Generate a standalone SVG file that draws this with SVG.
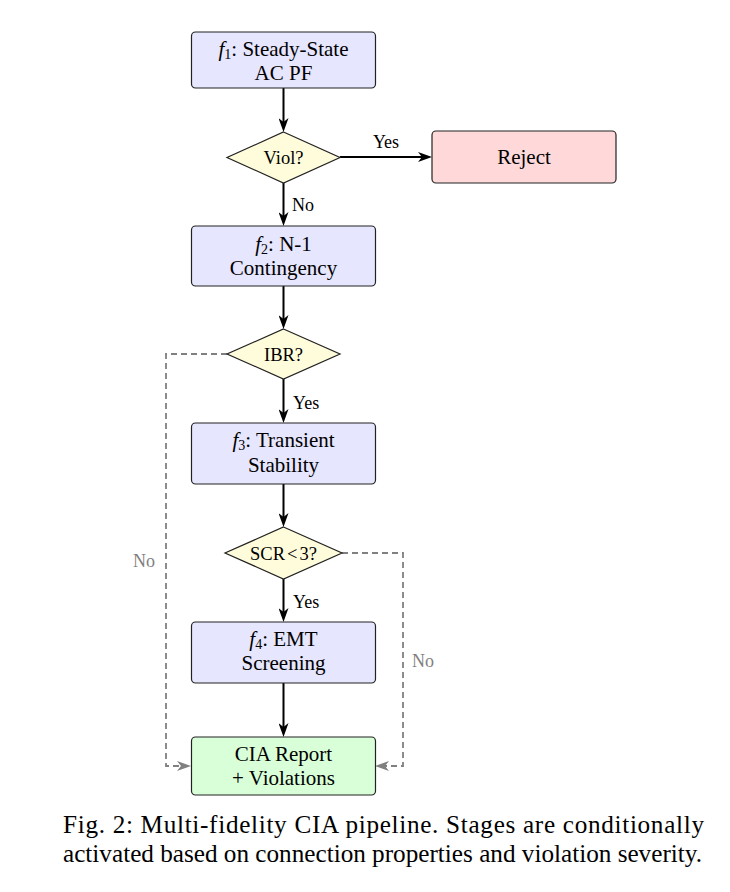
<svg xmlns="http://www.w3.org/2000/svg" width="730" height="892" viewBox="0 0 730 892">
<style>
text{font-family:"Liberation Serif","Times New Roman",serif;fill:#000}
.t{font-size:21px;text-anchor:middle}
.d{font-size:18.5px;text-anchor:middle}
.lab{font-size:18px}
.glab{font-size:18px;fill:#808080}
.cap{font-size:25.2px}
.box{fill:#E6E6FF;stroke:#222;stroke-width:1.2}
.dia{fill:#FFFCDB;stroke:#222;stroke-width:1.2}
.rej{fill:#FFD9D9;stroke:#222;stroke-width:1.2}
.rep{fill:#D9FFD9;stroke:#222;stroke-width:1.2}
.arr{fill:none;stroke:#000;stroke-width:2;marker-end:url(#ah)}
.dash{fill:none;stroke:#808080;stroke-width:1.8;stroke-dasharray:6 4;marker-end:url(#ag)}
.sub{font-size:14px}
</style>
<defs>
<marker id="ah" viewBox="0 0 14 10" refX="5" refY="5" markerWidth="14" markerHeight="10" markerUnits="userSpaceOnUse" orient="auto">
<path d="M0,0 L14,5 L0,10 L4,5 Z" fill="#000"/>
</marker>
<marker id="ag" viewBox="0 0 14 10" refX="5" refY="5" markerWidth="14" markerHeight="10" markerUnits="userSpaceOnUse" orient="auto">
<path d="M0,0 L14,5 L0,10 L4,5 Z" fill="#808080"/>
</marker>
</defs>

<g id="connectors">
<path class="arr" d="M283.5,88 V123"/>
<path class="arr" d="M283.5,183 V217"/>
<path class="arr" d="M340,157 H423"/>
<path class="arr" d="M283.5,286 V320"/>
<path class="arr" d="M283.5,379 V414"/>
<path class="arr" d="M283.5,484 V518"/>
<path class="arr" d="M283.5,579 V613"/>
<path class="arr" d="M283.5,683 V728"/>
<path class="dash" d="M227,354 H166 V766 H182"/>
<path class="dash" d="M342,553 H403 V766 H384"/>
<text class="lab" x="386" y="148" text-anchor="middle">Yes</text>
<text class="lab" x="292" y="211">No</text>
<text class="lab" x="293" y="409">Yes</text>
<text class="lab" x="293" y="608">Yes</text>
<text class="glab" x="133" y="567">No</text>
<text class="glab" x="412" y="667">No</text>
</g>

<g id="f1">
<rect class="box" x="191.5" y="32" width="184" height="56" rx="4"/>
<text class="t" x="283.5" y="56"><tspan font-style="italic">f</tspan><tspan class="sub" dy="3">1</tspan><tspan dy="-3">: Steady-State</tspan></text>
<text class="t" x="283.5" y="80">AC PF</text>
</g>

<g id="viol">
<polygon class="dia" points="283.5,132 340,157.5 283.5,183 227,157.5"/>
<text class="d" x="283.5" y="164">Viol?</text>
</g>

<g id="reject">
<rect class="rej" x="432" y="131" width="184" height="52" rx="4"/>
<text class="t" x="524" y="164">Reject</text>
</g>

<g id="f2">
<rect class="box" x="191.5" y="226" width="184" height="60" rx="4"/>
<text class="t" x="283.5" y="251"><tspan font-style="italic">f</tspan><tspan class="sub" dy="3">2</tspan><tspan dy="-3">: N-1</tspan></text>
<text class="t" x="283.5" y="275">Contingency</text>
</g>

<g id="ibr">
<polygon class="dia" points="283.5,329 340,354 283.5,379 227,354"/>
<text class="d" x="283.5" y="361">IBR?</text>
</g>

<g id="f3">
<rect class="box" x="191.5" y="423" width="184" height="61" rx="4"/>
<text class="t" x="283.5" y="447"><tspan font-style="italic">f</tspan><tspan class="sub" dy="3">3</tspan><tspan dy="-3">: Transient</tspan></text>
<text class="t" x="283.5" y="472">Stability</text>
</g>

<g id="scr">
<polygon class="dia" points="283.5,527 342,553 283.5,579 225,553"/>
<text class="d" x="283.5" y="560">SCR<tspan dx="2">&lt;</tspan><tspan dx="2">3?</tspan></text>
</g>

<g id="f4">
<rect class="box" x="191.5" y="622" width="184" height="61" rx="4"/>
<text class="t" x="283.5" y="646"><tspan font-style="italic">f</tspan><tspan class="sub" dy="3">4</tspan><tspan dy="-3">: EMT</tspan></text>
<text class="t" x="283.5" y="670">Screening</text>
</g>

<g id="report">
<rect class="rep" x="191.5" y="737" width="184" height="58" rx="4"/>
<text class="t" x="283.5" y="761">CIA Report</text>
<text class="t" x="283.5" y="785">+ Violations</text>
</g>

<g id="caption">
<text class="cap" x="63" y="833" textLength="641" lengthAdjust="spacing">Fig. 2: Multi-fidelity CIA pipeline. Stages are conditionally</text>
<text class="cap" x="63" y="862">activated based on connection properties and violation severity.</text>
</g>
</svg>
